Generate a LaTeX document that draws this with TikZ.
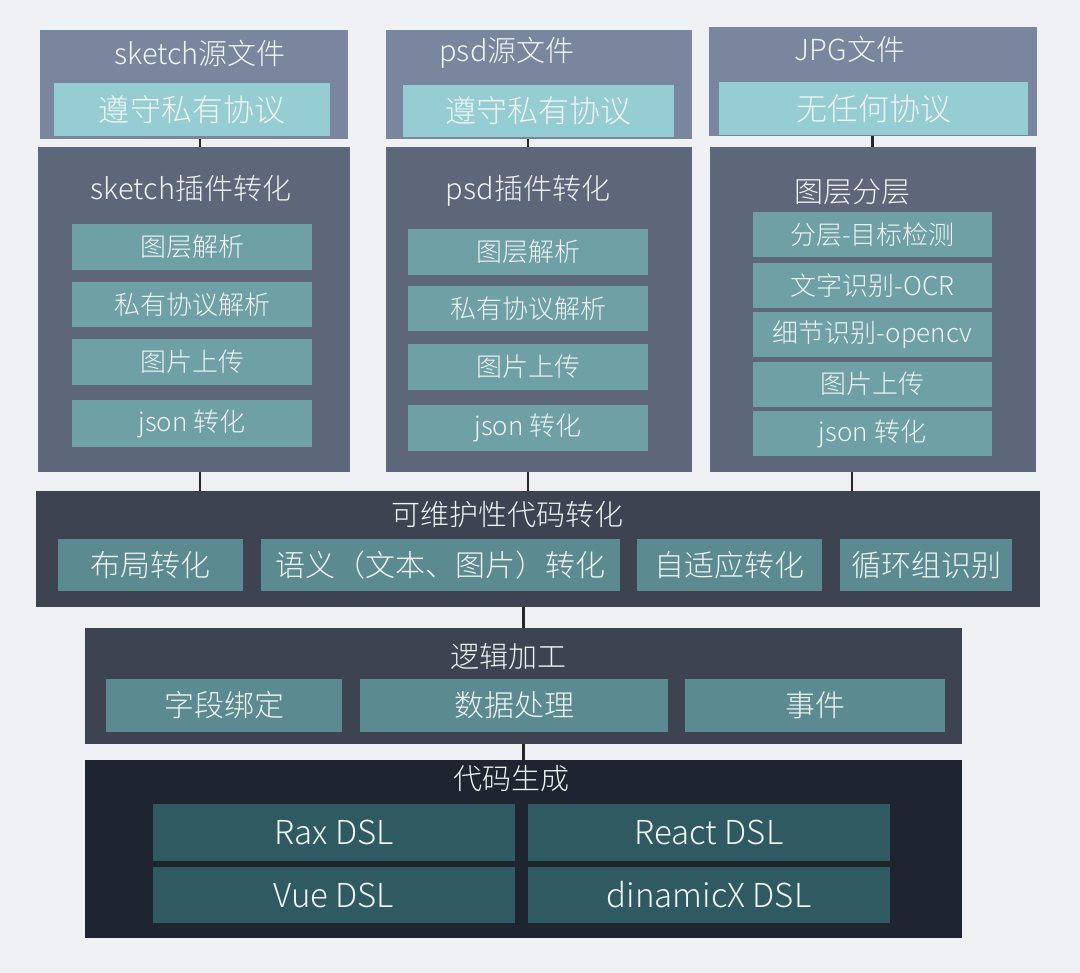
\documentclass[tikz,border=0pt]{standalone}
\usepackage{fontspec}
\setmainfont{Noto Sans CJK SC}[UprightFont={* Light}]
\usetikzlibrary{positioning}
\definecolor{bgcol}{HTML}{EEF0F3}
\definecolor{srccol}{HTML}{7A869E}
\definecolor{protocol}{HTML}{96CDD3}
\definecolor{plugcol}{HTML}{5E6679}
\definecolor{plugitem}{HTML}{6FA0A6}
\definecolor{convcol}{HTML}{3D4350}
\definecolor{convitem}{HTML}{5B8A90}
\definecolor{gencol}{HTML}{1F2530}
\definecolor{genitem}{HTML}{2F5A62}
\definecolor{txtcol}{HTML}{EEF3F4}
\newcommand{\fs}[1]{\fontsize{#1bp}{#1bp}\selectfont}
\tikzset{
  box/.style={inner sep=0,outer sep=0,text=txtcol},
  srcbox/.style={box,fill=srccol},
  protbox/.style={box,fill=protocol,font=\fs{31}},
  plugbox/.style={box,fill=plugcol},
  itembox/.style={box,fill=plugitem,font=\fs{26},minimum width=240bp},
  convbox/.style={box,fill=convcol},
  convitem/.style={box,fill=convitem,font=\fs{30},minimum height=52bp},
  genbox/.style={box,fill=gencol},
  genitem/.style={box,fill=genitem,font=\fs{33},minimum width=362bp},
  title/.style={text=txtcol,inner sep=0},
  link/.style={line width=2.5bp,black!85}
}
\begin{document}
\begin{tikzpicture}[x=1bp,y=-1bp]
  \fill[bgcol](0,0)rectangle(1080,973);
  \useasboundingbox(0,0)rectangle(1080,973);
  % source files
  \node[srcbox,minimum width=308bp,minimum height=109bp](sksrc)at(194,84.5){};
  \node[title,font=\fs{29}](sksrct)at(200,53){sketch源文件};
  \node[protbox,minimum width=276bp,minimum height=53bp](skprot)at(192,109.5){遵守私有协议};
  \node[srcbox,minimum width=306bp,minimum height=109bp](psdsrc)at(539,84.5){};
  \node[title,font=\fs{29}](psdsrct)at(507,53){psd源文件};
  \node[protbox,minimum width=271bp,minimum height=52bp](psdprot)at(538.5,111){遵守私有协议};
  \node[srcbox,minimum width=328bp,minimum height=109bp](jpgsrc)at(873,81.5){};
  \node[title,font=\fs{29}](jpgsrct)at(850,49){JPG文件};
  \node[protbox,minimum width=309bp,minimum height=53bp](jpgprot)at(873.5,108.5){无任何协议};
  % plugins
  \node[plugbox,minimum width=312bp,minimum height=325bp](skplug)at(194,309.5){};
  \node[title,font=\fs{29}](skplugt)at(191,188){sketch插件转化};
  \node[itembox,minimum height=46bp](sk1)at(192,247){图层解析};
  \node[itembox,minimum height=45bp](sk2)at(192,304.5){私有协议解析};
  \node[itembox,minimum height=46bp](sk3)at(192,362){图片上传};
  \node[itembox,minimum height=47bp](sk4)at(192,423.5){json 转化};
  \node[plugbox,minimum width=306bp,minimum height=325bp](psdplug)at(539,309.5){};
  \node[title,font=\fs{29}](psdplugt)at(528,191){psd插件转化};
  \node[itembox,minimum height=46bp](psd1)at(528,252){图层解析};
  \node[itembox,minimum height=45bp](psd2)at(528,308.5){私有协议解析};
  \node[itembox,minimum height=46bp](psd3)at(528,367){图片上传};
  \node[itembox,minimum height=46bp](psd4)at(528,428){json 转化};
  \node[plugbox,minimum width=326bp,minimum height=325bp](jpgplug)at(873,309.5){};
  \node[title,font=\fs{29}](jpgplugt)at(852,192){图层分层};
  \foreach \n/\y/\t in {1/234.5/分层-目标检测,2/285.5/文字识别-OCR,3/334.5/细节识别-opencv,4/384/图片上传,5/433.5/json 转化}
    \node[itembox,minimum width=239bp,minimum height=45bp](jpg\n)at(872.5,\y){\t};
  % conversion
  \node[convbox,minimum width=1004bp,minimum height=116bp](conv)at(538,549){};
  \node[title,font=\fs{29}](convt)at(507,515){可维护性代码转化};
  \node[convitem,minimum width=185bp](layout)at(150.5,565){布局转化};
  \node[convitem,minimum width=359bp](semantic)at(440.5,565){语义（文本、图片）转化};
  \node[convitem,minimum width=185bp](adapt)at(729.5,565){自适应转化};
  \node[convitem,minimum width=172bp](loop)at(926,565){循环组识别};
  % logic
  \node[convbox,minimum width=877bp,minimum height=116bp](logic)at(523.5,686){};
  \node[title,font=\fs{29}](logict)at(508,657){逻辑加工};
  \node[convitem,minimum width=236bp,minimum height=53bp](field)at(224,705.5){字段绑定};
  \node[convitem,minimum width=308bp,minimum height=53bp](data)at(514,705.5){数据处理};
  \node[convitem,minimum width=260bp,minimum height=53bp](event)at(815,705.5){事件};
  % code generation
  \node[genbox,minimum width=877bp,minimum height=178bp](gen)at(523.5,849){};
  \node[title,font=\fs{29}](gent)at(511,779){代码生成};
  \node[genitem,minimum height=57bp](rax)at(334,832.5){Rax DSL};
  \node[genitem,minimum height=57bp](react)at(709,832.5){React DSL};
  \node[genitem,minimum height=56bp](vue)at(334,895){Vue DSL};
  \node[genitem,minimum height=56bp](dinamicx)at(709,895){dinamicX DSL};
  % links
  \draw[link](sksrc.south-|sksrct)--(skplug.north-|sksrct);
  \draw[link](psdsrc.south-|psd1)--(psdplug.north-|psd1);
  \draw[link](jpgsrc.south-|jpg1)--(jpgplug.north-|jpg1);
  \draw[link](skplug.south-|sksrct)--(conv.north-|sksrct);
  \draw[link](psdplug.south-|psd1)--(conv.north-|psd1);
  \draw[link](jpgplug.south-|jpgplugt)--(conv.north-|jpgplugt);
  \draw[link](conv.south-|logic)--(logic.north);
  \draw[link](logic.south)--(gen.north);
\end{tikzpicture}
\end{document}
